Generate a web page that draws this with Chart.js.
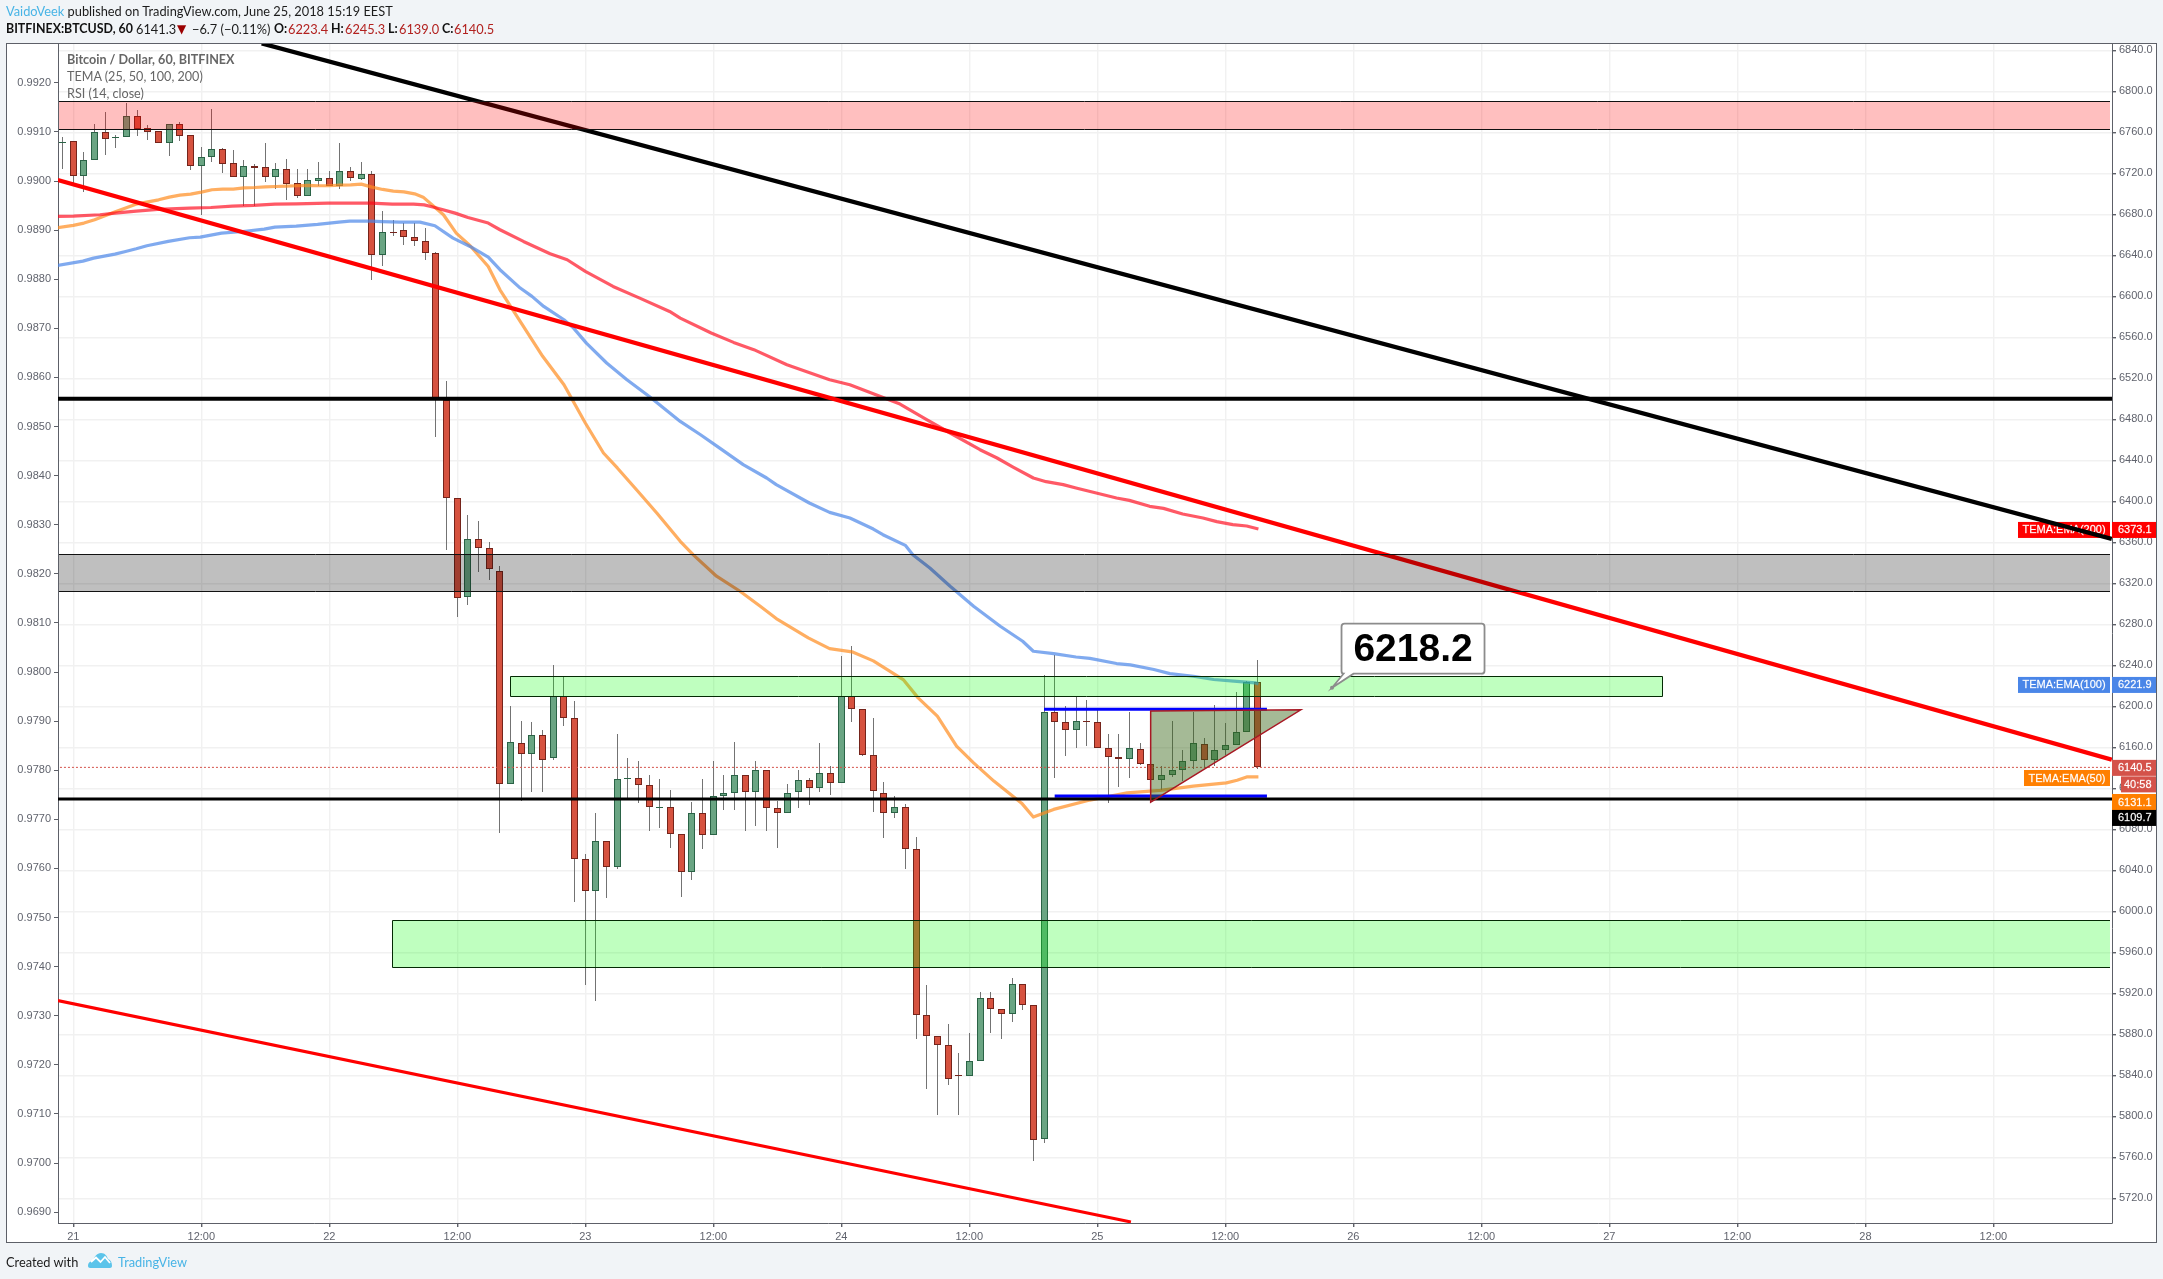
<!DOCTYPE html>
<html>
<head>
<meta charset="utf-8">
<title>BITFINEX:BTCUSD, 60</title>
<script src="https://cdn.jsdelivr.net/npm/chart.js@4/dist/chart.umd.min.js"></script>
<style>
html, body { margin: 0; padding: 0; background: #f1f4f7; width: 2163px; height: 1279px; overflow: hidden; }
body { position: relative; font-family: Lato, "Noto Sans", sans-serif; color: #1c1c1c; }
#frame { position: absolute; left: 6px; top: 43px; width: 2149px; height: 1198px; background: #fff; border: 1px solid #5d6068; }
#myChart { position: absolute; left: 0; top: 0; }
.t { position: absolute; white-space: nowrap; font-size: 12.8px; line-height: 16px; }
.b { font-weight: 700; color: #111; font-size: 12.4px; }
.p { color: #b2211f; }
.pane { color: #666; font-size: 12.6px; }
.blue { color: #48b4e6; }
</style>
</head>
<body>
<div id="frame"></div>
<canvas id="myChart" width="2163" height="1279"></canvas>

<div class="t" style="left:6px;top:3px"><span class="blue">VaidoVeek</span> published on TradingView.com, June 25, 2018 15:19 EEST</div>
<div class="t b" style="left:6px;top:21px">BITFINEX:BTCUSD, 60</div>
<div class="t" style="left:136px;top:21px">6141.3</div>
<div class="t" style="left:177px;top:21px;color:#9b0000;font-family:'DejaVu Sans';font-size:12px">▼</div>
<div class="t" style="left:192px;top:21px">−6.7 (−0.11%)</div>
<div class="t b" style="left:274px;top:21px">O:</div><div class="t p" style="left:288px;top:21px">6223.4</div>
<div class="t b" style="left:331px;top:21px">H:</div><div class="t p" style="left:345px;top:21px">6245.3</div>
<div class="t b" style="left:388px;top:21px">L:</div><div class="t p" style="left:399px;top:21px">6139.0</div>
<div class="t b" style="left:442px;top:21px">C:</div><div class="t p" style="left:454px;top:21px">6140.5</div>

<div class="t pane" style="left:67px;top:52px;font-weight:700">Bitcoin / Dollar, 60, BITFINEX</div>
<div class="t pane" style="left:67px;top:69px">TEMA (25, 50, 100, 200)</div>
<div class="t pane" style="left:67px;top:86px">RSI (14, close)</div>

<div class="t" style="left:6px;top:1254px">Created with</div>
<svg style="position:absolute;left:88px;top:1252px" width="24" height="16" viewBox="0 0 24 16">
  <path d="M0 14 C0 10 3 9 5 9 C6 5 9 1 13 1 C17 1 19 4 20 7 C23 8 24 11 24 14 C24 15 23 16 22 16 L2 16 C1 16 0 15 0 14 Z" fill="#5cc4ea"/>
  <path d="M3 10 L8 5.5 L12.5 10 L17 5 L22 11" fill="none" stroke="#fff" stroke-width="1.8"/>
</svg>
<div class="t blue" style="left:118px;top:1254px">TradingView</div>

<script>
// hourly candles, hour 0 = June 21 00:00, first candle at hour -1
var candleOpen = [6750.5,6751.4,6717,6732.6,6760.2,6754.3,6755,6775.8,6764,6761.1,6750,6768,6757.3,6726.7,6735.5,6743.6,6730,6716,6727.3,6726,6716,6724.1,6710.5,6698.4,6713,6715.4,6707.2,6722.2,6714.7,6719.2,6639.9,6662.7,6664.6,6657.8,6653.9,
    6642.2,6499.2,6403.3,6306.5,6363.4,6354.6,6331.8,6124.5,6164.5,6153.7,6172.2,6149.8,6210,6188.8,6051.4,6019.8,6068.9,6043.2,6129,6130.3,6123.5,6100.8,6102,6075.7,6038.4,6096.2,6074.4,6112.4,6115.4,6133.2,6116.4,6138.1,6101.1,6095.9,6116.4,6128.4,6120.2,6135.2,
    6125.1,6210,6197.6,6152.7,6115.7,6095.9,6102,6061.1,5899.2,5878.8,5870,5840.7,5839.4,5854.1,5915.8,5905.1,5899.9,5929.5,5909,5778.3,6194.7,6184.9,6176.8,6185.9,6184.9,6159.5,6150.8,6148.9,6158.6,6144,6128,6133.2,6138.1,6146.9,6163.5,6147.9,6157.6,6162.5,6175.2,6223.4];
var candleHigh = [6755.3,6751.4,6740.7,6768.3,6780,6757.6,6788.8,6782,6767,6761.1,6768,6770,6757.3,6745.9,6783,6744.6,6743,6733.2,6729.3,6749.8,6730,6734.2,6724.4,6724.4,6731.3,6722.5,6749.8,6726,6731,6722.5,6683.5,6674.7,6671.5,6671.5,6666.9,
    6643.2,6517.7,6403.3,6387,6381.2,6360.8,6337.4,6199.9,6186.2,6184.3,6177.4,6240.8,6229.5,6204.8,6055.6,6095.5,6068.9,6172.6,6149.2,6147.2,6132.6,6128.7,6118,6075.7,6106.3,6128.7,6146.3,6132.6,6164.8,6133.2,6147.2,6138.1,6107.6,6123.8,6138.4,6129.7,6163.8,6141.4,
    6249.6,6259.3,6197.6,6188.2,6126.7,6112.1,6104.3,6072.1,5927.9,5878.8,5889.8,5861.6,5881,5921,5921,5905.1,5934.7,5929.5,5909,6231,6250.6,6199.9,6210.3,6206.7,6197,6172.6,6172.6,6195,6163.8,6144,6141.4,6186.2,6157,6195,6169.6,6200.9,6183.3,6214.5,6225.2,6245.3];
var candleLow = [6724.4,6707.2,6701.4,6732.6,6738.1,6745.2,6755,6756,6752.7,6750,6737.1,6752,6723.4,6679.6,6730.6,6720.5,6716,6688.4,6687.7,6711.8,6704.9,6693.6,6696.2,6698.4,6707.2,6707.2,6704.9,6712.7,6714,6616.2,6629.9,6659.1,6650.4,6649.4,6635.7,
    6462.8,6353,6287,6299.3,6330.9,6323.7,6076.4,6124.5,6107.6,6116,6116,6147.5,6180.7,6009.1,5928.2,5912.6,6013,6041,6110.8,6105.6,6078.3,6081.3,6061.7,6014,6030.5,6060.8,6074.4,6098.8,6098.8,6078.3,6083.2,6078.3,6061.7,6095.9,6100.8,6103.4,6116.4,6113.4,
    6125.1,6184.6,6151.4,6096.9,6071.2,6090.7,6041,5875.5,5826.5,5801.1,5830.3,5801.1,5839.4,5854.1,5881,5875.2,5891.8,5903.5,5756.2,5773.8,6130,6151.4,6159.2,6161.8,6159.2,6105.6,6121.2,6130,6143,6128,6118.3,6131,6127.1,6138.8,6139.4,6141.4,6153,6162.5,6175.2,6139];
var candleClose = [6751,6717.9,6732.9,6760.2,6754,6755.6,6775.8,6763.4,6760.8,6750,6768,6756.9,6726.7,6735.8,6743.6,6729.6,6716,6727,6725.7,6716,6724.1,6710.1,6698.4,6713.4,6715.4,6707.2,6722.2,6715,6719.2,6639.9,6662.7,6662,6657.5,6653.6,6641.9,
    6500.8,6403.3,6305.8,6363.4,6354.6,6334.1,6124.5,6165.4,6153.7,6172.2,6147.9,6210,6188.5,6051.4,6019.8,6068.9,6043.2,6129.4,6130.3,6123.5,6102,6102,6075.4,6038.4,6096.2,6074.4,6112.8,6115.7,6133.2,6116.4,6138.1,6100.8,6095.9,6115.7,6128.4,6120.2,6135.2,6125.1,
    6210,6197.3,6152.4,6117.3,6095.9,6102,6060.8,5898.9,5878.5,5869.7,5836.5,5839.4,5854.4,5915.8,5905.1,5899.9,5929.5,5908.7,5777,6194.7,6184.6,6176.8,6185.9,6184.6,6159.2,6150.8,6148.9,6159.5,6143.7,6128,6133.2,6138.1,6146.9,6164.5,6147.9,6157.6,6162.5,6175.2,6223.9,6140.5];

var ema50Hours = [-1.5,0,1,2,4,6,8,9,10,11,12,13,14,15,16,17,18,19,20,21,22,23,24,25,26,27,28,29,30,31,32,32.8,34.7,35.9,37.2,38.9,40,42,44,46,48,49.7,51,52.8,54.7,56.9,58.1,60.3,62.5,64.4,65.9,68.9,70.9,73,75,77.8,79.2,81,82.8,84.4,86.3,88.9,90,91.9,95.3,98.8,101.9,105,108.1,109.1,110,111.1];
var ema50Values = [6666.9,6669.2,6671.5,6674.7,6682.8,6690.3,6694.2,6696.8,6698.8,6699.7,6701.7,6704,6704.6,6704.6,6705.9,6706.2,6706.9,6707.2,6707.5,6707.9,6708.2,6707.9,6707.9,6708.5,6708.8,6709.5,6706.6,6704.3,6702.7,6702,6700,6696.8,6679.6,6661.7,6649.4,6629.2,6606.4,6574,6541.5,6513.8,6476.5,6447.2,6432.6,6411.4,6388.7,6361,6348,6327,6312.3,6297.7,6285.7,6266.8,6256.4,6253.2,6244.4,6226.2,6208.3,6190.5,6161.2,6144.9,6127.1,6105.6,6092,6099.5,6108.6,6115.7,6118,6122.2,6125.4,6128,6131.2,6131.2];

var ema100Hours = [-1.5,0.9,1.9,3.9,4.9,5.9,6.9,8.9,10.9,11.9,13.9,15.9,17.9,18.9,20.9,22.9,24.9,25.9,27.9,28.9,30.6,32.5,33.9,35.6,37.2,38.9,40,41.9,43,44.1,46,46.9,48.1,50,51.9,54,56.9,58.8,60.6,62.8,65,65.9,69,70.9,72.8,75,75.9,78,78.7,80.3,82.2,84.4,86.9,89,90,91.9,94,95.3,97.8,99.1,101.3,102.8,105,106.9,108.8,110.8,111.1];
var ema100Values = [6630,6634.4,6637.3,6641.2,6643.8,6646.4,6649.4,6653.6,6657.2,6657.8,6661.7,6663.3,6665.6,6667.6,6668.6,6670.2,6672.4,6673.4,6673.4,6673,6672.4,6672.4,6668.9,6656.8,6648.7,6638.3,6626,6608.1,6600,6590.2,6577.2,6569,6554.4,6535,6518.7,6502.4,6478,6465,6452,6435.8,6422.8,6416.3,6398.4,6389.3,6383.8,6373,6367.5,6357.1,6348,6335,6317.2,6297.6,6278.2,6263.5,6253.8,6251.5,6248.2,6246.9,6241.8,6240.5,6236,6232,6229.4,6226.2,6224.6,6223,6221.9];

var ema200Hours = [-1.5,0,2.5,3.9,5.9,7.9,10.9,12.9,14.9,16.9,18.9,20.9,23.9,25.9,27.9,29.9,31.9,32.9,33.8,35.8,37,38.9,40,42.2,44.7,46.3,48,50.6,53.1,55.9,56.9,59.8,61.9,63.8,66.9,70.9,72.8,75,77.5,80,82.2,85,86.6,88.1,90,91.2,92.8,94,95.9,97.8,99,100.9,102.2,104,105.9,107.2,108.7,110,111.1];
var ema200Values = [6678,6678.3,6679.6,6681.2,6683.2,6684.8,6686,6686.7,6688,6688.7,6690,6690.3,6691,6691,6691,6690,6690,6689.3,6687,6681.2,6677,6671.5,6665,6653.6,6641.6,6635.7,6624.3,6609.7,6598.3,6585.3,6578.8,6564.2,6555.1,6548,6533.3,6518.7,6513.8,6505,6494.9,6479.7,6466.7,6450.4,6442.3,6433.5,6422.8,6419.2,6416.3,6413,6408.2,6403.3,6401,6395.2,6393.2,6387.7,6383.8,6380.2,6377.3,6376,6373.1];

// drawn lines, [hourA, hourB] and [priceA, priceB]
var blackTrendHours = [17.66, 191.1];
var blackTrendPrices = [6846.8, 6363.4];
var redTrendHours = [-1.45, 191.1];
var redTrendPrices = [6713.6, 6148];
var lowerTrendHours = [-1.45, 99.15];
var lowerTrendPrices = [5913, 5697];
var topLevel = 6500.2;
var supportLevel = 6109.7;
var lastPrice = 6140.5;
var triangleTop = 6197.2;
var triangleBottom = 6112.4;
var triangleTopHours = [91, 111.9];
var triangleBottomHours = [92, 111.9];

// shaded zones
var zoneNames = ['pink', 'gray', 'greenUpper', 'greenLower'];
var zoneTop = [6790.5, 6348.7, 6229.8, 5991.8];
var zoneBottom = [6763.2, 6312.9, 6210.3, 5945.9];
var zoneStart = [-2, -2, 40.97, 29.9];
var zoneEnd = [192, 192, 148.95, 192];
var triangleHours = [101, 115.07, 101];
var trianglePrices = [6195.6, 6196.6, 6106.5];
var calloutHour = 118;
var calloutPrice = 6218.2;
var xTickStep = 12;

var zoneFill = { pink: 'rgba(255,0,0,0.25)', gray: 'rgba(0,0,0,0.25)', greenUpper: 'rgba(0,255,0,0.25)', greenLower: 'rgba(0,255,0,0.25)' };
var candleHours = candleOpen.map(function (v, i) { return i - 1; });

function pairs(xs, ys) {
    return xs.map(function (x, i) { return { x: x, y: ys[i] }; });
}
function lineSet(label, xs, ys, color, width, order, dash) {
    return {
        type: 'line', label: label, data: pairs(xs, ys), borderColor: color, borderWidth: width,
        pointRadius: 0, fill: false, tension: 0, order: order, yAxisID: 'y', borderDash: dash || [],
        borderCapStyle: 'butt', borderJoinStyle: 'round'
    };
}

var upColors = candleOpen.map(function (o, i) { return candleClose[i] >= o ? '#6aa583' : '#d6523f'; });
var edgeColors = candleOpen.map(function (o, i) { return candleClose[i] >= o ? '#2a6346' : '#75241b'; });

var wickSet = {
    type: 'bar', label: 'wick', order: 50, yAxisID: 'y', grouped: false, barThickness: 1, inflateAmount: 0,
    data: candleHours.map(function (h, i) { return { x: h, y: [candleLow[i], candleHigh[i]] }; }),
    backgroundColor: '#737373', borderWidth: 0
};
var bodySet = {
    type: 'bar', label: 'body', order: 40, yAxisID: 'y', grouped: false, barThickness: 7, inflateAmount: 0,
    data: candleHours.map(function (h, i) { return { x: h, y: [candleOpen[i], candleClose[i]] }; }),
    backgroundColor: upColors, borderColor: edgeColors, borderWidth: 1, borderSkipped: false
};

var paneTags = [
    { text: 'TEMA:EMA(200)', price: 6373.1, color: '#ff0000', left: 2018 },
    { text: 'TEMA:EMA(100)', price: 6221.9, color: '#4a86e8', left: 2018 },
    { text: 'TEMA:EMA(50)', price: 6131.1, color: '#ff7f00', left: 2024 }
];
var axisTags = [
    { text: '6373.1', price: 6373.1, color: '#ff0000', shift: 1 },
    { text: '6221.9', price: 6221.9, color: '#4a86e8', shift: 1 },
    { text: '6140.5', price: 6140.5, color: '#d4524a', shift: 0.5 },
    { text: '40:58', price: 6140.5, color: '#d4524a', shift: 17, left: 2121, alignRight: true },
    { text: '6131.1', price: 6131.1, color: '#ff7f00', shift: 25 },
    { text: '6109.7', price: 6109.7, color: '#000000', shift: 19 }
];

function tagText(c, text, px, py) {
    c.fillStyle = '#fff';
    c.strokeStyle = 'rgba(255,255,255,0.6)';
    c.lineWidth = 0.3;
    c.fillText(text, px, py);
    c.strokeText(text, px, py);
}

var chartOverlays = {
    id: 'chartOverlays',
    beforeDatasetsDraw: function (chart) {
        // snap candles to whole pixels so they stay crisp
        chart.data.datasets.forEach(function (ds, di) {
            if (ds.type !== 'bar') return;
            chart.getDatasetMeta(di).data.forEach(function (el) {
                el.x = Math.floor(el.x) + 0.5;
                var a = Math.round(el.y), b = Math.round(el.base);
                if (a === b) b = a + 1;
                el.y = a; el.base = b;
            });
        });
        var c = chart.ctx, y = chart.scales.y;
        c.save();
        c.font = '11px "Liberation Sans"';
        c.textBaseline = 'middle';
        c.textAlign = 'center';
        paneTags.forEach(function (t) {
            var py = y.getPixelForValue(t.price) + 1;
            c.fillStyle = t.color;
            c.fillRect(t.left, py - 8, 2110 - t.left, 16);
            tagText(c, t.text, (t.left + 2110) / 2, py + 0.5);
        });
        c.restore();
    },
    afterDatasetsDraw: function (chart) {
        var c = chart.ctx, x = chart.scales.x, y = chart.scales.y;
        var L = 59, R = 2110;
        c.save();

        // triangle
        c.beginPath();
        triangleHours.forEach(function (h, i) {
            var px = x.getPixelForValue(h), py = y.getPixelForValue(trianglePrices[i]);
            if (i === 0) c.moveTo(px, py); else c.lineTo(px, py);
        });
        c.closePath();
        c.fillStyle = 'rgba(55,102,22,0.45)';
        c.fill();
        c.strokeStyle = '#a81824';
        c.lineWidth = 1.5;
        c.stroke();

        // zones
        zoneNames.forEach(function (name, i) {
            var t = Math.round(y.getPixelForValue(zoneTop[i])) + 0.5;
            var b = Math.round(y.getPixelForValue(zoneBottom[i])) + 0.5;
            var l = Math.max(L, Math.round(x.getPixelForValue(zoneStart[i])) + 0.5);
            var r = Math.min(R, Math.round(x.getPixelForValue(zoneEnd[i])) + 0.5);
            c.fillStyle = zoneFill[name];
            c.fillRect(l, t, r - l, b - t);
            c.strokeStyle = name.indexOf('green') === 0 ? '#042a04' : '#111';
            c.lineWidth = 1;
            c.beginPath();
            c.moveTo(l, t); c.lineTo(r, t);
            c.moveTo(l, b); c.lineTo(r, b);
            if (l > L) { c.moveTo(l, t); c.lineTo(l, b); }
            if (r < R) { c.moveTo(r, t); c.lineTo(r, b); }
            c.stroke();
        });

        // callout
        var ax = x.getPixelForValue(calloutHour), ay = y.getPixelForValue(calloutPrice);
        var bx = ax + 9.5, by = ay - 64, bw = 143, bh = 50;
        c.beginPath();
        c.moveTo(bx + 3, by);
        c.lineTo(bx + bw - 3, by);
        c.quadraticCurveTo(bx + bw, by, bx + bw, by + 3);
        c.lineTo(bx + bw, by + bh - 3);
        c.quadraticCurveTo(bx + bw, by + bh, bx + bw - 3, by + bh);
        c.lineTo(bx + 12, by + bh);
        c.lineTo(ax, ay);
        c.lineTo(bx + 2, by + bh);
        c.quadraticCurveTo(bx, by + bh, bx, by + bh - 3);
        c.lineTo(bx, by + 3);
        c.quadraticCurveTo(bx, by, bx + 3, by);
        c.closePath();
        c.fillStyle = '#fff';
        c.fill();
        c.strokeStyle = '#8c8c8c';
        c.lineWidth = 1.8;
        c.stroke();
        c.beginPath();
        c.arc(ax, ay, 2, 0, Math.PI * 2);
        c.fillStyle = '#8c8c8c';
        c.fill();
        c.fillStyle = '#000';
        c.font = 'bold 39px "Liberation Sans"';
        c.textAlign = 'center';
        c.textBaseline = 'middle';
        c.fillText('6218.2', bx + bw / 2, by + bh / 2 + 1.5);

        // price tags on the right axis
        c.font = '11px "Liberation Sans"';
        c.textAlign = 'left';
        axisTags.forEach(function (t) {
            var py = y.getPixelForValue(t.price) + t.shift;
            var left = t.left || 2112;
            c.fillStyle = t.color;
            c.fillRect(left, py - 8, 2156 - left, 16);
            tagText(c, t.text, t.alignRight ? 2124 : 2118, py + 0.5);
        });
        c.restore();
    }
};

var ctx = document.getElementById('myChart').getContext('2d');
var graphData = {
    type: 'bar',
    data: {
        datasets: [
            lineSet('blackTrend', blackTrendHours, blackTrendPrices, '#000000', 4.2, 10),
            lineSet('redTrend', redTrendHours, redTrendPrices, '#ff0000', 4.2, 10),
            lineSet('lowerTrend', lowerTrendHours, lowerTrendPrices, '#ff0000', 3.1, 10),
            lineSet('topLevel', [-2, 192], [topLevel, topLevel], '#000000', 4, 10),
            lineSet('support', [-2, 192], [supportLevel, supportLevel], '#000000', 3, 10),
            lineSet('triTop', triangleTopHours, [triangleTop, triangleTop], '#0000ff', 3.2, 12),
            lineSet('triBottom', triangleBottomHours, [triangleBottom, triangleBottom], '#0000ff', 3.2, 12),
            lineSet('last', [-2, 192], [lastPrice, lastPrice], '#d4524a', 1, 20, [2, 2]),
            lineSet('ema200', ema200Hours, ema200Values, 'rgba(255,0,20,0.65)', 3.2, 30),
            lineSet('ema100', ema100Hours, ema100Values, 'rgba(74,134,232,0.7)', 3.2, 30),
            lineSet('ema50', ema50Hours, ema50Values, 'rgba(255,140,30,0.7)', 3.2, 30),
            bodySet,
            wickSet
        ]
    },
    options: {
        responsive: false,
        animation: false,
        events: [],
        layout: { padding: { left: 7, top: 44, right: 7, bottom: 37 } },
        plugins: { legend: { display: false }, tooltip: { enabled: false } },
        scales: {
            x: {
                type: 'linear', position: 'bottom', offset: false,
                min: -1.434, max: 191.12,
                afterFit: function (s) { s.height = 19; },
                border: { color: '#5d6068', width: 1 },
                grid: { offset: false, color: '#f1f1f1', lineWidth: 1.4, tickColor: '#5d6068', tickLength: 4 },
                ticks: {
                    stepSize: xTickStep, includeBounds: false, autoSkip: false, maxRotation: 0, color: '#60636d', padding: 3,
                    font: { family: 'Liberation Sans', size: 11 },
                    callback: function (v) { return v % 24 === 0 ? String(21 + v / 24) : '12:00'; }
                }
            },
            y: {
                type: 'linear', position: 'right',
                min: 5696, max: 6846.2,
                afterFit: function (s) { s.width = 44; },
                border: { color: '#5d6068', width: 1 },
                grid: { color: '#f1f1f1', lineWidth: 1.4, tickColor: '#5d6068', tickLength: 4 },
                ticks: {
                    stepSize: 40, includeBounds: false, autoSkip: false, color: '#60636d', padding: 3,
                    font: { family: 'Liberation Sans', size: 11 },
                    callback: function (v) { return v.toFixed(1); }
                }
            },
            y2: {
                type: 'linear', position: 'left',
                min: 0.96878, max: 0.99279,
                afterFit: function (s) { s.width = 51; },
                border: { color: '#5d6068', width: 1 },
                grid: { drawOnChartArea: false, tickColor: '#5d6068', tickLength: 4 },
                ticks: {
                    stepSize: 0.001, includeBounds: false, autoSkip: false, color: '#60636d', padding: 3,
                    font: { family: 'Liberation Sans', size: 11 },
                    callback: function (v) { return v.toFixed(4); }
                }
            }
        }
    },
    plugins: [chartOverlays]
};
var myChart = new Chart(ctx, graphData);
</script>
</body>
</html>
